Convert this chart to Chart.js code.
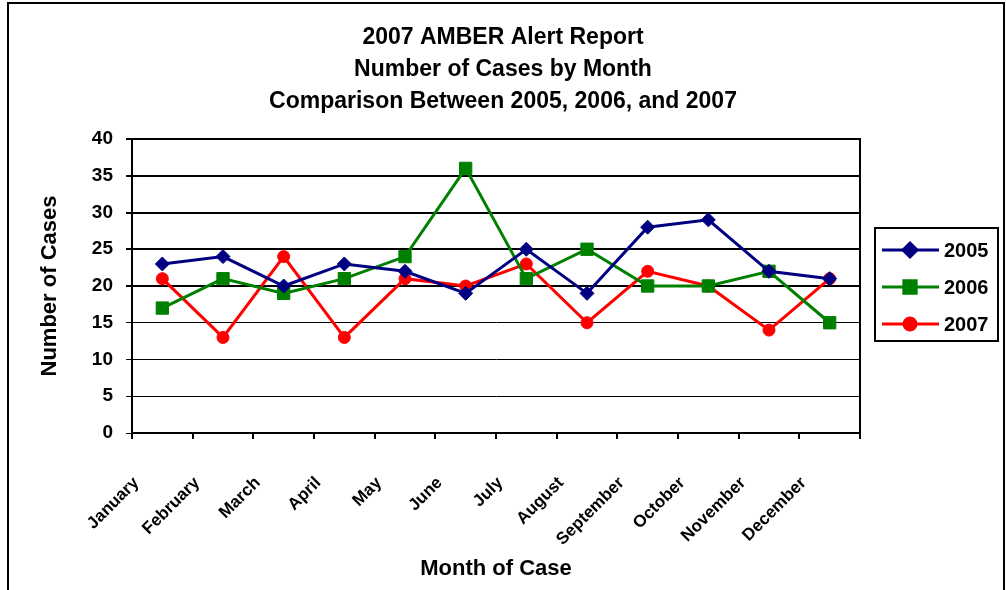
<!DOCTYPE html>
<html>
<head>
<meta charset="utf-8">
<title>2007 AMBER Alert Report</title>
<script src="https://cdn.jsdelivr.net/npm/chart.js@4.4.1/dist/chart.umd.min.js"></script>
<style>
  html, body { margin: 0; padding: 0; background: #fff; }
  #wrap { width: 1006px; height: 590px; }
</style>
</head>
<body>
<div id="wrap"><canvas id="chart" width="1006" height="590"></canvas></div>
<script>
// ---- data ----
const months = ['January', 'February', 'March', 'April', 'May', 'June',
  'July', 'August', 'September', 'October', 'November', 'December'];
const cases2005 = [23, 24, 20, 23, 22, 19, 25, 19, 28, 29, 22, 21];
const cases2006 = [17, 21, 19, 21, 24, 36, 21, 25, 20, 20, 22, 15];
const cases2007 = [21, 13, 24, 13, 21, 20, 23, 15, 22, 20, 14, 21];
const titleLines = ['2007 AMBER Alert Report', 'Number of Cases by Month', 'Comparison Between 2005, 2006, and 2007'];

const FONT = '"Liberation Sans", Arial, sans-serif';

// outer frame + plot frame + excel style legend
const frame = {
  id: 'frame',
  beforeDatasetsDraw(chart) {
    const { ctx, chartArea: a } = chart;
    ctx.save();
    ctx.strokeStyle = '#000';
    ctx.lineWidth = 2;
    ctx.strokeRect(a.left, a.top, a.right - a.left, a.bottom - a.top);
    ctx.restore();
  },
  afterDraw(chart) {
    const { ctx, chartArea: a } = chart;
    ctx.save();
    ctx.strokeStyle = '#000';
    ctx.lineWidth = 2;
    ctx.strokeRect(8, 3, 996, 640);

    // legend box
    const bx = a.right + 15, by = 228, bw = 123, bh = 113;
    ctx.strokeRect(bx, by, bw, bh);
    chart.data.datasets.forEach((ds, i) => {
      const y = 250 + i * 37;
      ctx.strokeStyle = ds.borderColor;
      ctx.lineWidth = 3;
      ctx.beginPath();
      ctx.moveTo(bx + 7, y);
      ctx.lineTo(bx + 64, y);
      ctx.stroke();
      Chart.helpers.drawPoint(ctx, {
        pointStyle: ds.pointStyle, radius: ds.pointRadius, borderWidth: 1
      }, bx + 35, y);
      ctx.fillStyle = ds.pointBackgroundColor;
      ctx.fill();
      ctx.fillStyle = '#000';
      ctx.font = 'bold 20px ' + FONT;
      ctx.textBaseline = 'middle';
      ctx.textAlign = 'left';
      ctx.fillText(ds.label, bx + 69, y + 1);
    });
    ctx.restore();
  }
};

function serie(label, data, color, style, radius) {
  return {
    label, data,
    borderColor: color,
    backgroundColor: color,
    pointBackgroundColor: color,
    pointBorderColor: color,
    borderWidth: 3,
    pointStyle: style,
    pointRadius: radius,
    pointBorderWidth: 1,
    tension: 0
  };
}

new Chart(document.getElementById('chart'), {
  type: 'line',
  data: {
    labels: months,
    datasets: [
      serie('2005', cases2005, '#000080', 'rectRot', 7),
      serie('2006', cases2006, '#008000', 'rect', 8.7),
      serie('2007', cases2007, '#ff0000', 'circle', 6)
    ]
  },
  options: {
    responsive: false,
    animation: false,
    layout: { padding: 0 },
    plugins: {
      legend: { display: false },
      tooltip: { enabled: false },
      title: {
        display: true,
        text: titleLines,
        color: '#000',
        font: { family: FONT, size: 23, weight: 'bold', lineHeight: '32px' },
        padding: { top: 22, bottom: 21 }
      }
    },
    scales: {
      x: {
        offset: true,
        afterFit(scale) { scale.height = 157; },
        grid: { offset: true, drawOnChartArea: false, drawTicks: true, tickLength: 6, color: '#000', lineWidth: 2 },
        border: { display: true, color: '#000', width: 2 },
        ticks: {
          autoSkip: false, maxRotation: 45, minRotation: 45,
          padding: 34, labelOffset: -26,
          color: '#000',
          font: { family: FONT, size: 17, weight: 'bold' }
        },
        title: {
          display: true, text: 'Month of Case', color: '#000',
          font: { family: FONT, size: 22, weight: 'bold' },
          padding: { top: 0, bottom: 8 }
        }
      },
      y: {
        min: 0, max: 40,
        afterFit(scale) { scale.width = 132; },
        grid: {
          color: '#000', tickLength: 6,
          lineWidth: c => (c.tick && c.tick.value >= 20 ? 2 : 1)
        },
        border: { display: true, color: '#000', width: 2 },
        ticks: {
          stepSize: 5, padding: 13, color: '#000',
          font: { family: FONT, size: 19, weight: 'bold' }
        },
        title: {
          display: true, text: 'Number of Cases', color: '#000',
          font: { family: FONT, size: 22, weight: 'bold' },
          padding: { top: 37, bottom: 0 }
        }
      },
      // empty right-hand axis that only reserves room for the legend
      side: {
        position: 'right',
        afterFit(scale) { scale.width = 146; },
        grid: { display: false },
        border: { display: false },
        ticks: { display: false }
      }
    }
  },
  plugins: [frame]
});
</script>
</body>
</html>
